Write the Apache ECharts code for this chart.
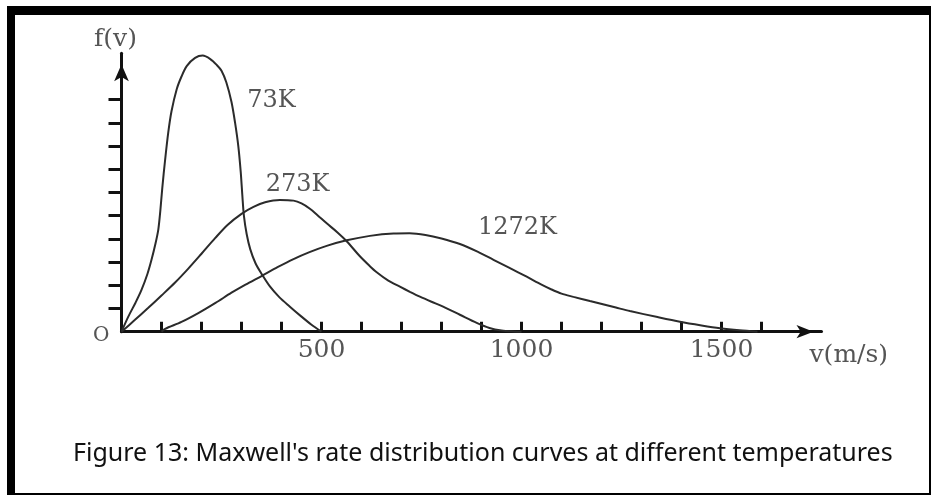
<!DOCTYPE html>
<html>
<head>
<meta charset="utf-8">
<script src="https://cdn.jsdelivr.net/npm/echarts@6/dist/echarts.min.js"></script>
<style>
  html, body { margin: 0; padding: 0; background: #fff; }
  #frame {
    position: absolute; left: 7px; top: 6px; right: 1px; bottom: 2px;
    border-style: solid; border-color: #000;
    border-width: 9px 2px 2px 8px;
  }
  #chart { position: absolute; left: 0; top: 0; width: 932px; height: 497px; }
</style>
</head>
<body>
<div id="frame"></div>
<div id="chart"></div>
<script>
// speed v (m/s) and distribution f(v) in arbitrary units, one pair per point
const curve73K = [
  [0, 0], [17, 0.65], [35, 1.25], [50, 1.8], [65, 2.5], [75, 3.1], [85, 3.8],
  [92, 4.4], [97, 5.2], [102, 6.2], [109, 7.4], [117, 8.6], [125, 9.5],
  [138, 10.45], [150, 11.0], [163, 11.45], [184, 11.8], [203, 11.9],
  [222, 11.75], [238, 11.5], [250, 11.25], [262, 10.75], [275, 9.9],
  [284, 9.0], [292, 8.0], [298, 6.9], [302, 5.9], [306, 5.0], [313, 4.2],
  [322, 3.55], [335, 2.95], [350, 2.5], [371, 1.95], [395, 1.48], [421, 1.08],
  [450, 0.65], [475, 0.3], [500, 0]
];
const curve273K = [
  [0, 0], [33, 0.5], [67, 1.03], [100, 1.56], [134, 2.12], [167, 2.72],
  [200, 3.36], [234, 4.03], [265, 4.6], [300, 5.08], [330, 5.38], [359, 5.58],
  [396, 5.68], [430, 5.65], [450, 5.53], [471, 5.3], [490, 5.02], [513, 4.67],
  [540, 4.28], [563, 3.9], [596, 3.25], [620, 2.84], [638, 2.56], [667, 2.2],
  [696, 1.94], [721, 1.72], [746, 1.51], [775, 1.29], [804, 1.08], [846, 0.73],
  [888, 0.38], [920, 0.16], [950, 0.05], [980, 0.01], [1000, 0]
];
const curve1272K = [
  [100, 0], [109, 0.12], [150, 0.42], [192, 0.8], [235, 1.24], [275, 1.68],
  [310, 2.03], [350, 2.4], [390, 2.78], [430, 3.13], [470, 3.43], [513, 3.7],
  [563, 3.94], [621, 4.13], [680, 4.23], [720, 4.24], [760, 4.17],
  [800, 4.02], [846, 3.78], [890, 3.45], [930, 3.1], [970, 2.75],
  [1013, 2.37], [1050, 2.03], [1075, 1.82], [1100, 1.64], [1130, 1.5],
  [1171, 1.32], [1236, 1.04], [1271, 0.89], [1340, 0.63], [1396, 0.43],
  [1450, 0.27], [1496, 0.15], [1545, 0.06], [1590, 0]
];
const seriesNames = ['73K', '273K', '1272K'];
// where each temperature tag sits, in data units [v, f]
const tagAnchors = [[375, 9.95], [440, 6.32], [990, 4.48]];

const xTicks = [100, 200, 300, 400, 500, 600, 700, 800, 900, 1000, 1100, 1200, 1300, 1400, 1500, 1600];
const xTickLabels = [500, 1000, 1500];
const yTicks = [1, 2, 3, 4, 5, 6, 7, 8, 9, 10];
const xMax = 1750;
const yMax = 12;

const serifFont = 'DejaVu Serif';
const inkGrey = '#555';
const curveColor = '#2b2b2b';

const chart = echarts.init(document.getElementById('chart'), null, { renderer: 'canvas' });

const curves = [curve73K, curve273K, curve1272K];

chart.setOption({
  backgroundColor: 'transparent',
  animation: false,
  title: {
    text: "Figure 13: Maxwell's rate distribution curves at different temperatures",
    left: 73,
    top: 441,
    padding: 0,
    textStyle: {
      fontFamily: 'Noto Sans',
      fontSize: 25,
      fontWeight: 'normal',
      color: '#111'
    }
  },
  grid: { left: 121.5, top: 53.3, width: 700, height: 278.4, containLabel: false },
  xAxis: {
    type: 'value',
    min: 0,
    max: xMax,
    name: 'v(m/s)',
    nameLocation: 'end',
    nameGap: -12,
    nameTextStyle: {
      fontFamily: serifFont, fontSize: 25, color: inkGrey,
      align: 'left', verticalAlign: 'top', padding: [11, 0, 0, 0]
    },
    axisLine: {
      show: true,
      onZero: false,
      symbol: ['none', 'arrow'],
      symbolSize: [10, 17],
      symbolOffset: [0, -8],
      lineStyle: { color: '#111', width: 3 }
    },
    axisTick: {
      show: true, inside: true, length: 10,
      customValues: xTicks,
      lineStyle: { color: '#111', width: 3 }
    },
    axisLabel: {
      show: true,
      customValues: xTickLabels,
      formatter: (v) => String(v),
      margin: 6,
      fontFamily: serifFont, fontSize: 25, color: inkGrey
    },
    splitLine: { show: false }
  },
  yAxis: {
    type: 'value',
    min: 0,
    max: yMax,
    name: 'f(v)',
    nameLocation: 'end',
    nameGap: 1,
    nameTextStyle: {
      fontFamily: serifFont, fontSize: 25, color: inkGrey,
      align: 'center', verticalAlign: 'bottom', padding: [0, 12, 0, 0]
    },
    axisLine: {
      show: true,
      onZero: false,
      symbol: ['none', 'arrow'],
      symbolSize: [11, 17],
      symbolOffset: [0, -11],
      lineStyle: { color: '#111', width: 3 }
    },
    axisTick: {
      show: true, inside: false, length: 13,
      customValues: yTicks,
      lineStyle: { color: '#111', width: 3 }
    },
    axisLabel: {
      show: true,
      customValues: [0],
      formatter: () => 'O',
      margin: 12,
      verticalAlign: 'top',
      lineHeight: 8,
      fontFamily: serifFont, fontSize: 20, color: inkGrey
    },
    splitLine: { show: false }
  },
  series: curves.map((pts, i) => ({
    type: 'line',
    name: seriesNames[i],
    data: pts,
    smooth: 0.3,
    showSymbol: false,
    clip: false,
    lineStyle: { color: curveColor, width: 2 },
    markPoint: {
      symbol: 'circle',
      symbolSize: 0,
      silent: true,
      label: {
        show: true,
        position: 'inside',
        formatter: seriesNames[i],
        fontFamily: serifFont,
        fontSize: 24,
        color: inkGrey
      },
      data: [{ coord: tagAnchors[i] }]
    }
  }))
});
</script>
</body>
</html>
